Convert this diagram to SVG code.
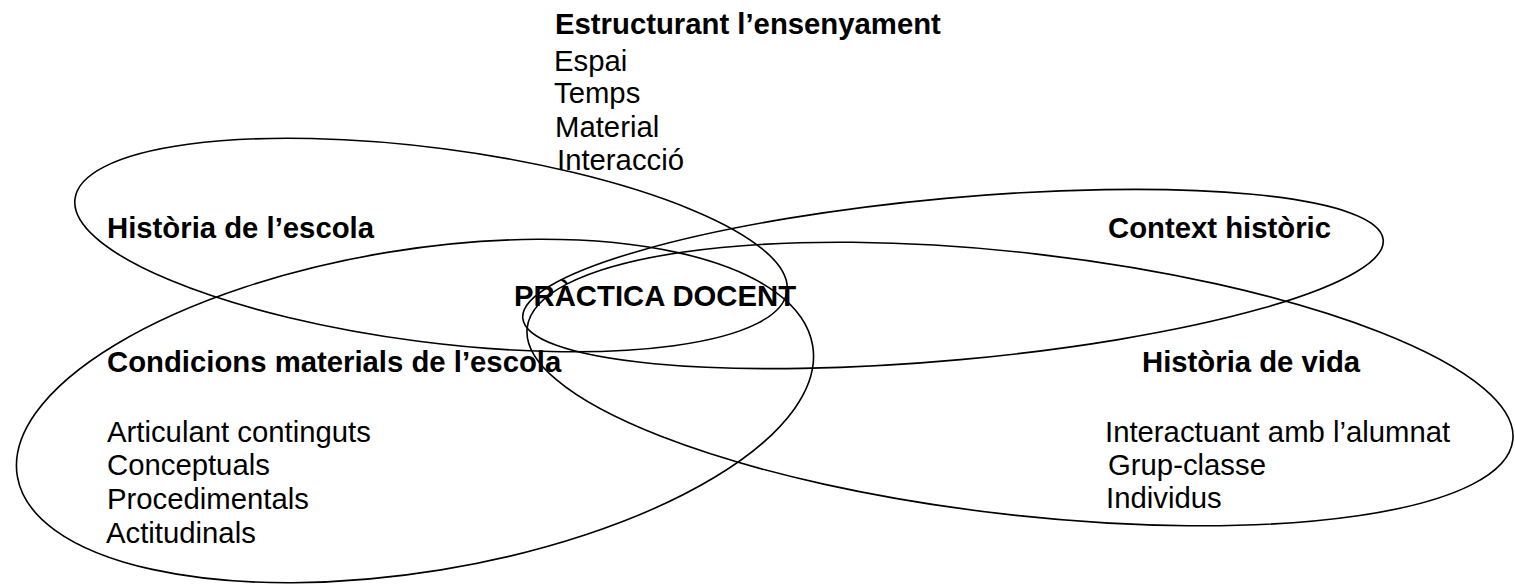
<svg xmlns="http://www.w3.org/2000/svg" width="1515" height="588" viewBox="0 0 1515 588">
<style>
.e{fill:none;stroke:#000;stroke-width:1.6}
.t{font-family:"Liberation Sans",Arial,sans-serif;font-size:29.3px;fill:#000}
.b{font-weight:bold}
</style>
<rect width="1515" height="588" fill="#fff"/>
<g id="connectors">
<ellipse id="ell-escola" class="e" cx="431" cy="245" rx="359" ry="97" transform="rotate(7.4 431 245)"/>
<ellipse id="ell-condicions" class="e" cx="415" cy="411" rx="403" ry="161" transform="rotate(-9.3 415 411)"/>
<ellipse id="ell-context" class="e" cx="953" cy="279" rx="432" ry="81" transform="rotate(-5.2 953 279)"/>
<ellipse id="ell-vida" class="e" cx="1020" cy="384" rx="496" ry="131" transform="rotate(6.5 1020 384)"/>
</g>
<g id="node-estructurant" class="t">
<text class="b" x="555" y="34">Estructurant l’ensenyament</text>
<text x="554" y="71">Espai</text>
<text x="554" y="103">Temps</text>
<text x="555" y="137">Material</text>
<text x="557" y="170">Interacció</text>
</g>
<g id="node-escola" class="t"><text class="b" x="107" y="238">Història de l’escola</text></g>
<g id="node-context" class="t"><text class="b" x="1108" y="238">Context històric</text></g>
<g id="node-practica" class="t"><text class="b" x="514" y="306">PRÀCTICA DOCENT</text></g>
<g id="node-condicions" class="t">
<text class="b" x="107" y="372">Condicions materials de l’escola</text>
<text x="107" y="442">Articulant continguts</text>
<text x="107" y="475">Conceptuals</text>
<text x="107" y="509">Procedimentals</text>
<text x="106" y="543">Actitudinals</text>
</g>
<g id="node-vida" class="t">
<text class="b" x="1142" y="372">Història de vida</text>
<text x="1105" y="442">Interactuant amb l’alumnat</text>
<text x="1108" y="475">Grup-classe</text>
<text x="1106" y="508">Individus</text>
</g>
</svg>
